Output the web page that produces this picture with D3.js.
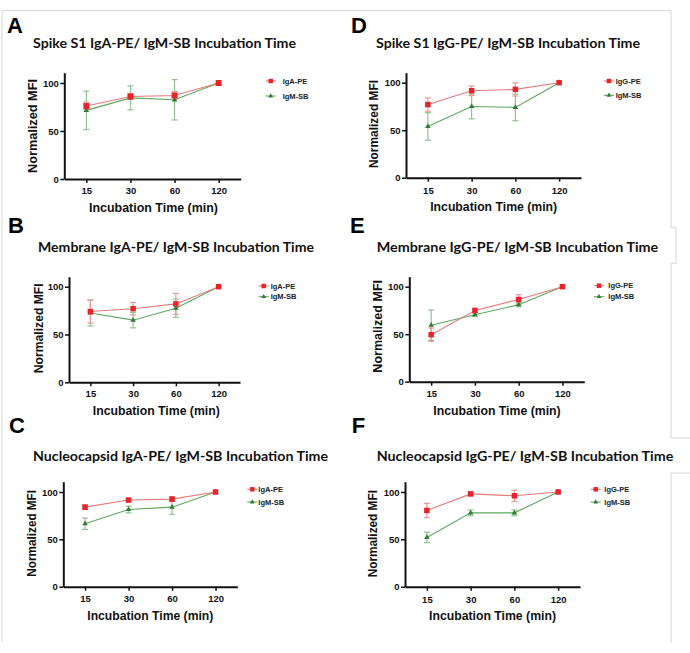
<!DOCTYPE html>
<html>
<head>
<meta charset="utf-8">
<script src="https://cdn.jsdelivr.net/npm/d3@7"></script>
<style>
  html, body { margin: 0; padding: 0; background: #ffffff; }
  svg { display: block; }
</style>
</head>
<body>
<svg id="chart" width="690" height="653"></svg>
<script>
// ---------- DATA ----------
const categories = ["15", "30", "60", "120"];
const yTickValues = [0, 50, 100];

const titleA = "Spike S1 IgA-PE/ IgM-SB Incubation Time";
const titleB = "Membrane IgA-PE/ IgM-SB Incubation Time";
const titleC = "Nucleocapsid IgA-PE/ IgM-SB Incubation Time";
const titleD = "Spike S1 IgG-PE/ IgM-SB Incubation Time";
const titleE = "Membrane IgG-PE/ IgM-SB Incubation Time";
const titleF = "Nucleocapsid IgG-PE/ IgM-SB Incubation Time";

const xAxisTitle = "Incubation Time (min)";
const yAxisTitle = "Normalized MFI";

// Panel A: Spike S1 IgA-PE / IgM-SB
const A_PE = [76, 86, 87, 100];
const A_PE_err = [4, 3, 4, 0];
const A_SB = [71.5, 84.5, 82.5, 100];
const A_SB_err = [20, 12.5, 21, 0];

// Panel B: Membrane IgA-PE / IgM-SB
const B_PE = [74, 77, 82, 100];
const B_PE_err = [12, 6.5, 11, 0];
const B_SB = [72.5, 65, 77.5, 100];
const B_SB_err = [13.5, 8, 9.5, 0];

// Panel C: Nucleocapsid IgA-PE / IgM-SB
const C_PE = [84, 91.5, 92.5, 100];
const C_PE_err = [2.5, 1.5, 2.5, 0];
const C_SB = [66.5, 81.5, 84, 100];
const C_SB_err = [6, 3.5, 7.5, 0];

// Panel D: Spike S1 IgG-PE / IgM-SB
const D_PE = [77, 91.5, 93, 100];
const D_PE_err = [7, 5, 7, 0];
const D_SB = [54, 75, 74, 100];
const D_SB_err = [14.5, 13, 14, 0];

// Panel E: Membrane IgG-PE / IgM-SB
const E_PE = [49.5, 75, 86.5, 100];
const E_PE_err = [7, 2, 5, 0];
const E_SB = [59.5, 70.5, 81, 100];
const E_SB_err = [16, 2, 2, 0];

// Panel F: Nucleocapsid IgG-PE / IgM-SB
const F_PE = [80.5, 98, 96, 100];
const F_PE_err = [7.5, 2, 6, 0];
const F_SB = [52, 78, 78, 100];
const F_SB_err = [5.5, 3, 3, 0];

// ---------- LAYOUT (positions per panel) ----------
const layouts = [
  { letter: "A", title: titleA, pe: "IgA-PE", PE: A_PE, PEe: A_PE_err, SB: A_SB, SBe: A_SB_err,
    lx: 7, ly: 33, tx0: 33, tx1: 296, ty: 43,
    x0: 64.3, x1: 240.7, y0: 179, y100: 83, ytop: 72.7,
    legX: 270.7, legY1: 81, legY2: 96, legTx: 282.7,
    xlabY: 191, xtCx: 153.5, xtY: 208, xtW: 129, ytCx: 32.3, ytCy: 126, ytW: 94, ms: 6 },
  { letter: "B", title: titleB, pe: "IgA-PE", PE: B_PE, PEe: B_PE_err, SB: B_SB, SBe: B_SB_err,
    lx: 8, ly: 233, tx0: 38, tx1: 314, ty: 247,
    x0: 69, x1: 240, y0: 382.3, y100: 286.7, ytop: 276.7,
    legX: 263.7, legY1: 286, legY2: 296.7, legTx: 270.7,
    xlabY: 393.3, xtCx: 156.3, xtY: 410.7, xtW: 127, ytCx: 38.3, ytCy: 328.3, ytW: 90, ms: 5.5 },
  { letter: "C", title: titleC, pe: "IgA-PE", PE: C_PE, PEe: C_PE_err, SB: C_SB, SBe: C_SB_err,
    lx: 9, ly: 433, tx0: 33, tx1: 328, ty: 456,
    x0: 63.3, x1: 237.3, y0: 586.7, y100: 492, ytop: 481.7,
    legX: 252.3, legY1: 489.3, legY2: 502, legTx: 258.3,
    xlabY: 598.3, xtCx: 150.3, xtY: 616, xtW: 126, ytCx: 31.7, ytCy: 533.3, ytW: 86.7, ms: 5.5 },
  { letter: "D", title: titleD, pe: "IgG-PE", PE: D_PE, PEe: D_PE_err, SB: D_SB, SBe: D_SB_err,
    lx: 351, ly: 33, tx0: 376, tx1: 640, ty: 43,
    x0: 406, x1: 581, y0: 177.7, y100: 82.7, ytop: 72.7,
    legX: 609, legY1: 81, legY2: 95.3, legTx: 615.7,
    xlabY: 190.7, xtCx: 493.7, xtY: 206.7, xtW: 127, ytCx: 373.3, ytCy: 124, ytW: 88, ms: 5.5 },
  { letter: "E", title: titleE, pe: "IgG-PE", PE: E_PE, PEe: E_PE_err, SB: E_SB, SBe: E_SB_err,
    lx: 350, ly: 233, tx0: 376.7, tx1: 658.3, ty: 247.3,
    x0: 409.3, x1: 584.3, y0: 381.7, y100: 286.7, ytop: 276.7,
    legX: 599, legY1: 285.7, legY2: 296.7, legTx: 608.3,
    xlabY: 393.3, xtCx: 497, xtY: 410.7, xtW: 127.4, ytCx: 377.7, ytCy: 326.3, ytW: 92.7, ms: 5.5 },
  { letter: "F", title: titleF, pe: "IgG-PE", PE: F_PE, PEe: F_PE_err, SB: F_SB, SBe: F_SB_err,
    lx: 351.7, ly: 433, tx0: 376.7, tx1: 673.3, ty: 456,
    x0: 405, x1: 580, y0: 586.7, y100: 492, ytop: 481.7,
    legX: 595.7, legY1: 489.3, legY2: 502, legTx: 604.3,
    xlabY: 599.3, xtCx: 492.5, xtY: 616, xtW: 127, ytCx: 372.3, ytCy: 533.7, ytW: 87.3, ms: 5.5 }
];

// ---------- STYLES ----------
const redMarker = "#e8242b";
const redLine = "#e37c7c";
const redErr = "#e79a9a";
const greenMarker = "#2f7d32";
const greenLine = "#5fa85f";
const greenErr = "#90c490";
const arial = "'Liberation Sans', Arial, sans-serif";
const titleFont = "Lato, 'Open Sans', sans-serif";

const svg = d3.select("#chart");

// figure borders (light gray frame of the composite)
svg.append("path")
  .attr("d", "M2,642 V10.7 H671 V227.7 H676 V263.3 H671 V438 H690 M690,473 H671 V643")
  .attr("fill", "none").attr("stroke", "#d6d6d6").attr("stroke-width", 1);

function drawPanel(L) {
  const g = svg.append("g");

  // panel letter
  g.append("text").attr("x", L.lx).attr("y", L.ly)
    .attr("font-family", arial).attr("font-weight", "bold").attr("font-size", 22)
    .attr("fill", "#000").text(L.letter);

  // title
  g.append("text").attr("x", L.tx0).attr("y", L.ty + 5)
    .attr("font-family", titleFont).attr("font-weight", "bold").attr("font-size", 14)
    .attr("fill", "#111")
    .attr("textLength", L.tx1 - L.tx0).attr("lengthAdjust", "spacingAndGlyphs")
    .text(L.title);

  // scales
  const yMax = 100 * (L.y0 - L.ytop) / (L.y0 - L.y100);
  const y = d3.scaleLinear().domain([0, yMax]).range([L.y0, L.ytop]);
  const x = d3.scalePoint().domain(categories).range([L.x0, L.x1]).padding(0.5);

  // axes
  const yAxis = g.append("g").attr("transform", `translate(${L.x0},0)`)
    .call(d3.axisLeft(y).tickValues(yTickValues).tickSize(4).tickSizeOuter(0).tickPadding(1.5));
  const xAxis = g.append("g").attr("transform", `translate(0,${L.y0})`)
    .call(d3.axisBottom(x).tickSize(4).tickSizeOuter(0).tickPadding(3.5));
  [yAxis, xAxis].forEach(a => {
    a.select(".domain").attr("stroke", "#111").attr("stroke-width", 2);
    a.selectAll(".tick line").attr("stroke", "#111").attr("stroke-width", 1.5);
    a.selectAll(".tick text").attr("font-family", arial).attr("font-weight", "bold")
      .attr("font-size", 9.5).attr("fill", "#111");
  });
  yAxis.selectAll(".tick text").attr("dy", "0.34em");
  xAxis.selectAll(".tick text").attr("y", null).attr("dy", null)
    .attr("transform", `translate(0,${L.xlabY - L.y0 + 3.4})`);

  // axis titles
  g.append("text").attr("x", L.xtCx).attr("y", L.xtY + 4.3)
    .attr("text-anchor", "middle").attr("font-family", arial).attr("font-weight", "bold")
    .attr("font-size", 12).attr("fill", "#111")
    .attr("textLength", L.xtW).attr("lengthAdjust", "spacingAndGlyphs")
    .text(xAxisTitle);
  g.append("text")
    .attr("transform", `translate(${L.ytCx + 4.3},${L.ytCy}) rotate(-90)`)
    .attr("text-anchor", "middle").attr("font-family", arial).attr("font-weight", "bold")
    .attr("font-size", 12).attr("fill", "#111")
    .attr("textLength", L.ytW).attr("lengthAdjust", "spacingAndGlyphs")
    .text(yAxisTitle);

  const series = [
    { vals: L.SB, errs: L.SBe, line: greenLine, err: greenErr, marker: greenMarker, shape: "tri" },
    { vals: L.PE, errs: L.PEe, line: redLine, err: redErr, marker: redMarker, shape: "sq" }
  ];

  const line = d3.line().x((d, i) => x(categories[i])).y(d => y(d));
  const capW = 3;

  series.forEach(s => {
    // error bars
    const eg = g.append("g");
    s.vals.forEach((v, i) => {
      const e = s.errs[i];
      if (!e) return;
      const cx = x(categories[i]);
      eg.append("line").attr("x1", cx).attr("x2", cx).attr("y1", y(v - e)).attr("y2", y(v + e))
        .attr("stroke", s.err).attr("stroke-width", 1.2);
      [v - e, v + e].forEach(t => {
        eg.append("line").attr("x1", cx - capW).attr("x2", cx + capW).attr("y1", y(t)).attr("y2", y(t))
          .attr("stroke", s.err).attr("stroke-width", 1.2);
      });
    });
    // connecting line
    g.append("path").datum(s.vals).attr("d", line)
      .attr("fill", "none").attr("stroke", s.line).attr("stroke-width", 1.1);
  });

  // markers (drawn after so they sit on top)
  series.forEach(s => {
    const sym = s.shape === "sq"
      ? d3.symbol().type(d3.symbolSquare).size(L.ms * L.ms)
      : d3.symbol().type(d3.symbolTriangle).size(13);
    g.append("g").selectAll("path").data(s.vals).join("path")
      .attr("transform", (d, i) => `translate(${x(categories[i])},${y(d)})`)
      .attr("d", sym).attr("fill", s.marker);
  });

  // legend
  const leg = [
    { label: L.pe, yy: L.legY1, line: redLine, marker: redMarker, shape: "sq" },
    { label: "IgM-SB", yy: L.legY2, line: greenLine, marker: greenMarker, shape: "tri" }
  ];
  leg.forEach(it => {
    g.append("line").attr("x1", L.legX - 5).attr("x2", L.legX + 5).attr("y1", it.yy).attr("y2", it.yy)
      .attr("stroke", it.line).attr("stroke-width", 1.1);
    const sym = it.shape === "sq"
      ? d3.symbol().type(d3.symbolSquare).size(20)
      : d3.symbol().type(d3.symbolTriangle).size(10);
    g.append("path").attr("transform", `translate(${L.legX},${it.yy})`).attr("d", sym).attr("fill", it.marker);
    g.append("text").attr("x", L.legTx).attr("y", it.yy + 2.7)
      .attr("font-family", arial).attr("font-weight", "bold").attr("font-size", 7.5)
      .attr("fill", "#222").text(it.label);
  });
}

layouts.forEach(drawPanel);
</script>
</body>
</html>
